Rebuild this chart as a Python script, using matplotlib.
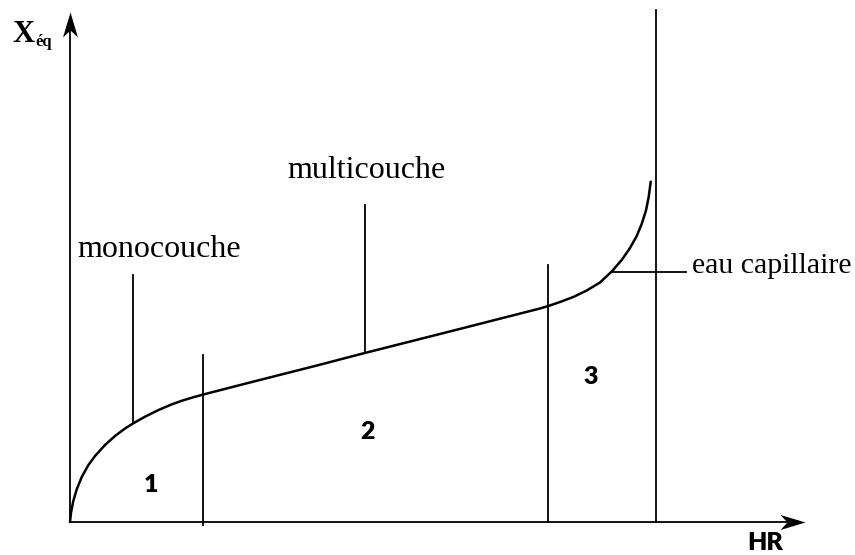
import matplotlib
matplotlib.use("Agg")
import matplotlib.pyplot as plt
from matplotlib.path import Path

# ---- data (HR in %, Xeq in arbitrary units) ----
hr_curve = [0, 0.17, 0.56, 1.14, 2.0, 3.12, 4.27, 5.97, 7.68, 9.39, 10.8, 12.8,
            15.07, 17.35, 19.06, 21.04, 22.75, 30.7, 41.8, 50.3, 64.8, 80.2,
            81.62, 83.62, 85.89, 88.17, 90.44, 92.44, 94.15, 95.56, 96.71,
            97.56, 98.29, 98.75, 99.1]
xeq_curve = [0, 1.86, 4.2, 6.5, 9.0, 11.36, 13.2, 15.4, 17.2, 18.7, 19.74, 21.06,
             22.38, 23.52, 24.24, 24.95, 25.5, 27.9, 31.2, 33.8, 38.1, 42.7,
             43.2, 44.0, 45.0, 46.3, 47.9, 50.1, 52.4, 54.8, 57.2,
             59.6, 62.3, 65.0, 68.06]

# zone boundaries: (HR, bottom, top)
zone_hr = [22.7, 81.6, 100.0]
zone_bottom = [-0.6, 0.0, 0.0]
zone_top = [33.4, 51.4, 102.4]

zone_labels = ["1", "2", "3"]
zone_label_hr = [13.8, 50.7, 88.9]
zone_label_xeq = [7.4, 18.0, 29.0]

# leader lines
mono_hr, mono_y0, mono_y1 = 10.8, 19.74, 49.4
multi_hr, multi_y0, multi_y1 = 50.3, 33.8, 63.4
cap_xeq, cap_hr0, cap_hr1 = 50.1, 92.44, 105.1

x_axis_end = 125.4
y_axis_end = 102.0

fig = plt.figure(figsize=(8.55, 5.55), dpi=100)
ax = fig.add_axes([0, 0, 1, 1])
ax.set_xlim(-70 / 5.86, (855 - 70) / 5.86)
ax.set_ylim(-33 / 5.0, 522 / 5.0)
ax.axis("off")

lw = 1.3
# axes
ax.plot([0, x_axis_end - 1.5], [0, 0], color="black", lw=lw, solid_capstyle="butt")
ax.plot([0, 0], [0, y_axis_end - 2], color="black", lw=lw, solid_capstyle="butt")

up_head = Path([(0, 0), (0.3, -1), (0, -0.72), (-0.3, -1), (0, 0)],
               [Path.MOVETO, Path.LINETO, Path.LINETO, Path.LINETO, Path.CLOSEPOLY])
right_head = Path([(0, 0), (-1, 0.3), (-0.72, 0), (-1, -0.3), (0, 0)],
                  [Path.MOVETO, Path.LINETO, Path.LINETO, Path.LINETO, Path.CLOSEPOLY])
ax.plot([0], [y_axis_end], marker=up_head, markersize=36, color="black", mew=0)
ax.plot([x_axis_end], [0], marker=right_head, markersize=36, color="black", mew=0)

# isotherm curve
ax.plot(hr_curve, xeq_curve, color="black", lw=1.8, solid_joinstyle="round",
        solid_capstyle="round")

# zone boundaries
for h, b, t in zip(zone_hr, zone_bottom, zone_top):
    ax.plot([h, h], [b, t], color="black", lw=lw)

# leader lines
ax.plot([mono_hr, mono_hr], [mono_y0, mono_y1], color="black", lw=lw)
ax.plot([multi_hr, multi_hr], [multi_y0, multi_y1], color="black", lw=lw)
ax.plot([cap_hr0, cap_hr1], [cap_xeq, cap_xeq], color="black", lw=lw)

serif = "Liberation Serif"
sans = "Lato"
ax.text(1.2, 53.0, "monocouche", family=serif, fontsize=23, ha="left", va="baseline")
ax.text(37.1, 68.8, "multicouche", family=serif, fontsize=23, ha="left", va="baseline")
ax.text(106.2, 49.8, "eau capillaire", family=serif, fontsize=21.5, ha="left", va="baseline")

for lab, h, y in zip(zone_labels, zone_label_hr, zone_label_xeq):
    ax.text(h, y, lab, family=sans, fontweight="heavy", fontsize=18, ha="center", va="center")

ax.text(118.6, -4.2, "HR", family=sans, fontweight="heavy", fontsize=18, ha="center", va="center")
ax.text(-9.75, 96.0, "X", family=serif, fontweight="bold", fontsize=22, ha="left", va="baseline")
ax.text(-5.95, 95.2, "éq", family=serif, fontweight="bold", fontsize=12, ha="left", va="baseline")

fig.savefig("out.png", dpi=100)
